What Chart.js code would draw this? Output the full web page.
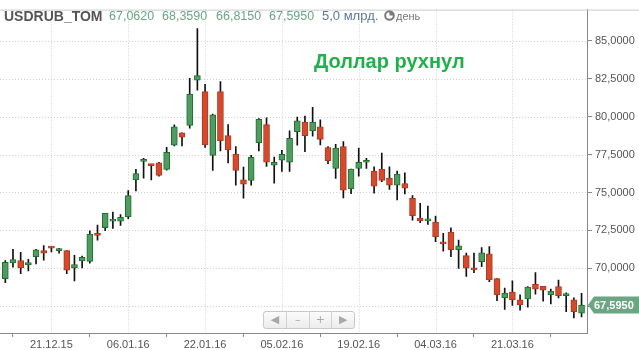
<!DOCTYPE html>
<html><head><meta charset="utf-8">
<script src="https://cdn.jsdelivr.net/npm/chart.js@4.4.1/dist/chart.umd.min.js"></script>
<style>
html,body{margin:0;padding:0;background:#fff;}
#wrap{position:relative;width:639px;height:350px;overflow:hidden;font-family:'Liberation Sans',Arial,sans-serif;}
#c{position:absolute;left:0;top:0;}
.t{position:absolute;white-space:nowrap;}
#nav{position:absolute;left:263px;top:311px;width:90px;height:16px;border:1px solid #c9c9c9;border-radius:3px;background:linear-gradient(#fbfbfb,#ececec);display:flex;}
#nav div{flex:1;text-align:center;color:#a8a8a8;font-size:11px;line-height:16px;border-left:1px solid #d2d2d2;font-family:'DejaVu Sans',sans-serif;}
#nav div:first-child{border-left:none;}
</style></head><body>
<div id="wrap">
<canvas id="c" width="639" height="350"></canvas>
<div class="t" style="left:4px;top:9px;font-size:14px;line-height:14px;font-weight:bold;color:#555">USDRUB_TOM</div>
<div class="t" id="v0" style="left:109px;top:10px;font-size:12.5px;line-height:12.5px;color:#6aa583"></div>
<div class="t" id="v1" style="left:162px;top:10px;font-size:12.5px;line-height:12.5px;color:#6aa583"></div>
<div class="t" id="v2" style="left:216px;top:10px;font-size:12.5px;line-height:12.5px;color:#6aa583"></div>
<div class="t" id="v3" style="left:269px;top:10px;font-size:12.5px;line-height:12.5px;color:#6aa583"></div>
<div class="t" style="left:322px;top:10px;font-size:13px;line-height:12.5px;color:#5b7a99">5,0 млрд.</div>
<svg class="t" style="left:384px;top:10px" width="11" height="11" viewBox="0 0 11 11"><circle cx="5.5" cy="5.5" r="4.3" fill="#fff" stroke="#7a7a7a" stroke-width="2"/><path d="M5.5 5.5 L5.5 1.5 A4 4 0 0 1 9.5 5.5 Z" fill="#7a7a7a"/></svg>
<div class="t" style="left:396px;top:11px;font-size:11px;line-height:11px;color:#777">день</div>
<div class="t" style="left:314px;top:51px;font-size:20px;line-height:20px;font-weight:bold;color:#21b04b">Доллар рухнул</div>
<div id="nav"><div>&#9664;</div><div>&#8211;</div><div>+</div><div>&#9654;</div></div>
</div>
<script>
const dates = ['11.12.15','14.12.15','15.12.15','16.12.15','17.12.15','18.12.15','21.12.15','22.12.15','23.12.15','24.12.15',
'25.12.15','28.12.15','29.12.15','30.12.15','04.01.16','05.01.16','06.01.16','11.01.16','12.01.16','13.01.16',
'14.01.16','15.01.16','18.01.16','19.01.16','20.01.16','21.01.16','22.01.16','25.01.16','26.01.16','27.01.16',
'28.01.16','29.01.16','01.02.16','02.02.16','03.02.16','04.02.16','05.02.16','08.02.16','09.02.16','10.02.16',
'11.02.16','12.02.16','15.02.16','16.02.16','17.02.16','18.02.16','19.02.16','20.02.16','22.02.16','24.02.16',
'25.02.16','26.02.16','29.02.16','01.03.16','02.03.16','03.03.16','04.03.16','07.03.16','09.03.16','10.03.16',
'11.03.16','14.03.16','15.03.16','16.03.16','17.03.16','18.03.16','21.03.16','22.03.16','23.03.16','24.03.16',
'25.03.16','28.03.16','29.03.16','30.03.16','31.03.16','01.04.16'];
const openV = [69.33,70.37,70.52,70.24,70.78,71.17,71.42,71.17,71.17,70.04,
70.50,70.47,72.27,72.68,73.11,73.11,73.41,75.83,77.05,76.86,
76.95,76.52,78.11,78.93,79.42,82.40,81.65,77.44,81.65,78.74,
77.53,75.83,75.80,78.28,79.47,76.80,77.12,76.99,79.00,79.64,
79.06,79.32,77.96,76.58,78.02,75.24,76.58,76.99,76.41,76.54,
75.95,75.48,75.59,74.61,73.32,73.13,73.06,71.75,72.39,71.23,
70.84,70.02,70.45,70.97,69.33,68.06,68.44,67.93,67.99,68.96,
68.83,68.25,68.81,68.21,67.93,67.062];
const highV = [70.52,71.25,71.06,70.60,71.25,71.51,71.42,71.32,71.17,70.86,
70.82,72.48,72.85,73.62,73.71,73.54,75.13,76.52,77.25,76.86,
76.99,77.98,79.45,78.93,82.51,85.79,82.12,80.16,82.30,79.47,
78.03,76.67,77.44,79.86,79.92,77.33,77.77,79.06,79.97,80.03,
80.61,79.79,78.02,78.17,78.35,76.54,77.92,77.25,76.69,77.59,
76.69,76.41,76.30,74.79,74.29,74.10,73.45,72.31,72.67,71.87,
71.01,71.01,71.38,71.44,69.33,68.70,69.18,68.27,68.81,69.72,
68.83,68.64,69.24,68.40,68.06,68.359];
const lowV = [69.07,70.09,69.65,69.83,70.30,70.54,71.08,71.01,69.65,69.18,
70.04,70.35,71.86,72.48,72.63,72.83,73.28,75.11,75.95,75.83,
76.08,76.47,78.07,78.07,79.23,81.73,77.96,76.45,77.74,76.95,
75.48,74.63,75.48,77.74,76.71,75.61,76.38,76.38,78.11,77.68,
78.71,78.13,76.90,75.93,74.64,74.92,76.08,76.58,74.96,75.71,
75.20,74.51,74.90,73.17,73.02,72.89,71.77,71.14,70.77,70.00,
69.48,69.72,70.11,69.13,67.88,67.30,67.56,67.26,67.45,68.31,
67.84,67.67,68.06,67.15,66.74,66.815];
const closeV = [70.41,70.58,70.04,70.39,71.23,71.01,71.34,71.23,69.89,70.26,
70.73,72.27,72.18,73.62,73.17,73.37,74.79,76.24,77.12,76.77,
76.13,77.64,79.32,78.65,81.48,82.69,78.13,80.12,78.41,77.81,
76.45,75.54,77.31,79.81,76.99,76.99,77.51,78.56,79.71,78.74,
79.64,78.50,77.10,77.92,75.15,76.54,76.99,77.07,75.41,75.80,
75.48,76.21,75.28,73.47,73.15,73.19,72.07,71.62,71.23,71.49,
70.02,69.91,71.03,69.24,68.25,68.38,67.93,67.60,68.77,68.64,
68.57,68.51,68.21,68.27,67.15,67.595];
const xTickIdx = [6,16,26,36,46,56,66];
const yTicks = [67.5,70,72.5,75,77.5,80,82.5,85];

const fmt = v => v.toFixed(4).replace('.', ',');
const last = closeV.length - 1;
['v0','v1','v2','v3'].forEach((id, k) => {
  document.getElementById(id).textContent = fmt([openV, highV, lowV, closeV][k][last]);
});

const up = dates.map((d, i) => closeV[i] >= openV[i]);
const wickData = dates.map((d, i) => ({x: i, y: [lowV[i], highV[i]]}));
const bodyData = dates.map((d, i) => ({x: i, y: [Math.min(openV[i], closeV[i]), Math.max(openV[i], closeV[i])]}));

const gridPlugin = {
  id: 'grid',
  beforeDatasetsDraw(chart) {
    const {ctx, chartArea: a, scales: {x, y}} = chart;
    ctx.save();
    ctx.strokeStyle = '#d0d0d0';
    ctx.lineWidth = 1;
    ctx.setLineDash([1, 2]);
    yTicks.forEach(v => {
      const py = Math.round(y.getPixelForValue(v)) + 0.5;
      ctx.beginPath(); ctx.moveTo(a.left, py); ctx.lineTo(a.right, py); ctx.stroke();
    });
    xTickIdx.forEach(v => {
      const px = Math.round(x.getPixelForValue(v)) + 0.5;
      ctx.beginPath(); ctx.moveTo(px, a.top); ctx.lineTo(px, a.bottom); ctx.stroke();
    });
    ctx.setLineDash([]);
    ctx.strokeStyle = '#cccccc';
    ctx.beginPath(); ctx.moveTo(0, a.top + 0.5); ctx.lineTo(chart.width, a.top + 0.5); ctx.stroke();
    ctx.restore();
  },
  afterDraw(chart) {
    const {ctx, scales: {y}} = chart;
    const py = y.getPixelForValue(closeV[last]);
    const x0 = y.left + 1;
    ctx.save();
    ctx.fillStyle = '#6ba583';
    ctx.beginPath();
    ctx.moveTo(x0, py);
    ctx.lineTo(x0 + 6, py - 8.5);
    ctx.lineTo(chart.width, py - 8.5);
    ctx.lineTo(chart.width, py + 8.5);
    ctx.lineTo(x0 + 6, py + 8.5);
    ctx.closePath();
    ctx.fill();
    ctx.fillStyle = '#ffffff';
    ctx.font = 'bold 11px "Liberation Sans", Arial, sans-serif';
    ctx.textBaseline = 'middle';
    ctx.fillText(fmt(closeV[last]), x0 + 6, py + 0.5);
    ctx.restore();
  }
};

new Chart(document.getElementById('c'), {
  type: 'bar',
  data: {
    datasets: [
      {
        label: 'wick', data: wickData, grouped: false, barThickness: 1,
        backgroundColor: '#111', borderWidth: 0, order: 2
      },
      {
        label: 'body', data: bodyData, grouped: false, barThickness: 6,
        backgroundColor: up.map(u => u ? '#4f9b62' : '#d7492c'),
        borderColor: up.map(u => u ? '#1e6f2c' : '#a83a22'),
        borderWidth: 1, borderSkipped: false, minBarLength: 2, order: 1
      }
    ]
  },
  options: {
    responsive: false,
    animation: false,
    devicePixelRatio: 1,
    layout: {padding: {top: 4, left: 0, right: 0, bottom: 0}},
    plugins: {legend: {display: false}, tooltip: {enabled: false}},
    scales: {
      x: {
        type: 'linear', min: -0.69, max: 75.71, offset: false,
        afterBuildTicks: s => { s.ticks = xTickIdx.map(v => ({value: v})); },
        afterFit: s => { s.height = 17; },
        grid: {drawOnChartArea: false, drawTicks: true, tickLength: 4, tickColor: '#888'},
        border: {color: '#888'},
        ticks: {
          autoSkip: false, maxRotation: 0, padding: 1, color: '#555',
          font: {family: 'Liberation Sans', size: 11},
          callback: v => dates[v]
        }
      },
      y: {
        position: 'right', min: 65.75, max: 87.04,
        afterBuildTicks: s => { s.ticks = yTicks.map(v => ({value: v})); },
        afterFit: s => { s.width = 52; },
        grid: {drawOnChartArea: false, drawTicks: true, tickLength: 5, tickColor: '#888'},
        border: {color: '#888'},
        ticks: {
          padding: 3, color: '#555',
          font: {family: 'Liberation Sans', size: 11},
          callback: v => fmt(v)
        }
      }
    }
  },
  plugins: [gridPlugin]
});
</script>
</body></html>
